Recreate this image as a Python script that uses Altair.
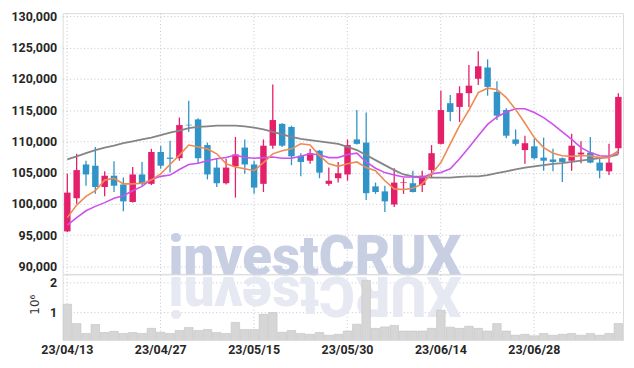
import altair as alt
import pandas as pd

dates = ["23/04/13","23/04/14","23/04/17","23/04/18","23/04/19","23/04/20","23/04/21","23/04/24","23/04/25","23/04/26",
         "23/04/27","23/04/28","23/05/02","23/05/03","23/05/04","23/05/08","23/05/09","23/05/10","23/05/11","23/05/12",
         "23/05/15","23/05/16","23/05/17","23/05/18","23/05/19","23/05/22","23/05/23","23/05/24","23/05/25","23/05/26",
         "23/05/30","23/05/31","23/06/01","23/06/02","23/06/05","23/06/07","23/06/08","23/06/09","23/06/12","23/06/13",
         "23/06/14","23/06/15","23/06/16","23/06/19","23/06/20","23/06/21","23/06/22","23/06/23","23/06/26","23/06/27",
         "23/06/28","23/06/29","23/06/30","23/07/03","23/07/04","23/07/05","23/07/06","23/07/07","23/07/10","23/07/11"]

opens = [95600,100900,106300,106100,102700,104500,103100,100300,104700,103200,
         108300,107400,107300,112650,113500,109400,105800,103300,106000,109000,
         106300,103200,109300,112800,112300,107700,106900,108500,103200,104100,
         104700,110300,109800,102800,102000,99900,103350,103300,103000,105400,
         109600,116100,115500,117700,120000,121800,117900,115000,110300,108600,
         109200,107400,107100,107300,106900,107900,108200,106600,105200,108900]
highs = [104800,108000,106900,109100,105200,106800,104200,105900,106700,108800,
         109300,110100,113800,116500,113700,109800,107200,107200,110700,110300,
         106900,110300,119100,112900,112500,108100,108800,108600,105800,106700,
         110300,115000,114600,103400,102900,105700,104100,105300,105300,109400,
         118100,117400,118800,122200,124400,123100,119600,115300,111900,110900,
         110400,110600,108800,107400,111200,110000,110700,107400,109600,117700]
lows = [95500,100000,102900,101600,101200,101900,98800,100200,102900,103000,
        105600,105000,106900,111500,106400,103900,102700,103100,101000,104800,
        101600,101900,108800,109100,106200,104400,106400,104100,102900,103400,
        103700,109500,100600,101600,98700,99500,101600,101800,101900,104200,
        109500,113200,113100,115500,119000,117300,113400,110500,109300,106400,
        107100,105300,105200,103500,105300,106500,106500,104100,104600,108000]
closes = [101800,105400,104700,102700,104500,102900,100400,104700,103200,108300,
          106100,107200,112600,112550,107300,104700,103300,105800,107900,106300,
          102600,109300,113400,109300,107600,106700,108100,105000,103700,104900,
          109400,109600,101700,101900,100400,103400,103450,101900,104500,108100,
          115000,114700,117700,118900,122000,118700,114100,110900,109600,109700,
          107300,106900,106700,106700,109300,108200,106600,105300,106600,117100]
volumes = [1.28,0.63,0.30,0.60,0.33,0.37,0.30,0.33,0.30,0.47,
           0.34,0.30,0.40,0.50,0.40,0.43,0.33,0.30,0.67,0.43,
           0.43,0.94,1.00,0.34,0.40,0.30,0.27,0.33,0.24,0.27,
           0.38,0.61,2.08,0.47,0.52,0.57,0.38,0.38,0.38,0.47,
           1.08,0.51,0.47,0.54,0.47,0.38,0.63,0.38,0.24,0.27,
           0.22,0.30,0.24,0.27,0.30,0.24,0.30,0.24,0.30,0.63]
ma_short = [97800,99800,101200,102100,103800,104100,103200,103200,103300,103800,
            104800,106300,107800,109400,109100,108800,108000,106400,105900,105600,
            105300,106600,108000,108500,108800,109600,109400,107700,106400,106000,
            106400,106700,105800,105300,103700,102400,102300,102500,103200,104800,
            106600,109600,112500,115000,117800,118500,118300,117000,115100,112900,
            110600,109000,108100,107700,107600,107700,107700,107400,107400,108500]
ma_mid = [96600,97800,98900,99600,100200,100900,101300,102100,102800,103900,
          104400,104600,105500,106300,106500,106900,107200,107400,107800,107400,
          107300,107400,107500,107300,107300,107600,108000,107800,107400,107400,
          107900,108100,106700,105700,105000,104600,104300,104300,104200,104800,
          105000,105600,107200,109000,110900,112700,113900,114700,115200,115200,
          114600,113800,112700,111500,110300,109000,108200,107700,107600,108300]
ma_long = [107100,107600,108100,108600,109000,109300,109700,110000,110300,110600,
           111000,111400,111700,112100,112300,112400,112500,112500,112500,112400,
           112200,111900,111500,111100,110700,110400,110200,110000,109800,109600,
           109100,108600,107800,107000,106200,105400,104700,104400,104300,104200,
           104200,104200,104300,104400,104400,104600,104900,105200,105500,105800,
           106000,106200,106400,106500,106700,106900,107100,107300,107500,107900]
label_dates = ["23/04/13","23/04/27","23/05/15","23/05/30","23/06/14","23/06/28"]
price_ticks = [90000,95000,100000,105000,110000,115000,120000,125000,130000]
watermark = ["investCRUX"]
watermark_mirror = ["XURCtsevni"]

df = pd.DataFrame({"date": dates, "open": opens, "high": highs, "low": lows, "close": closes,
                   "vol": volumes, "ma_s": ma_short, "ma_m": ma_mid, "ma_l": ma_long})
wm = pd.DataFrame({"t": watermark})
wm2 = pd.DataFrame({"t": watermark_mirror})

FONT = "Roboto"
LSIZE = 12.5
RED = "#e5206b"
BLUE = "#3194c8"
GRID = "#c3c5d6"

xscale = alt.Scale(paddingInner=0, paddingOuter=0)

def xenc(show_labels):
    return alt.X("date:O", sort=None, scale=xscale, title=None,
                 axis=alt.Axis(values=label_dates, labels=show_labels, ticks=False, domain=False,
                               grid=True, gridDash=[1, 2.5], gridColor=GRID, bandPosition=0.5,
                               labelAngle=0, labelPadding=4, labelFont=FONT, labelFontSize=LSIZE,
                               labelFontWeight="bold", labelColor="#262626", labelOverlap=False))

yprice = alt.Scale(domain=[88800, 130500], nice=False, zero=False)
price_axis = alt.Axis(values=price_ticks, format=",d", ticks=False, domain=False,
                      grid=True, gridDash=[1, 2.5], gridColor=GRID, labelPadding=6,
                      labelFont=FONT, labelFontSize=LSIZE, labelFontWeight="bold",
                      labelColor="#262626", labelOverlap=False, title=None)

def yenc(field):
    return alt.Y(field, type="quantitative", scale=yprice, axis=price_axis, title=None)

candle_color = alt.condition("datum.close >= datum.open", alt.value(RED), alt.value(BLUE))

base = alt.Chart(df)

mark_wm = alt.Chart(wm).mark_text(font="Roboto", fontSize=55, fontWeight=900, color="#c8cfe3",
                                  align="center", baseline="alphabetic").encode(
    text="t:N", x=alt.value(254), y=alt.value(264))

wicks = base.mark_rule(strokeWidth=1.3).encode(x=xenc(False), y=yenc("low"), y2="high:Q", color=candle_color)
bodies = base.mark_bar(size=6.5).encode(x=xenc(False), y=yenc("open"), y2="close:Q", color=candle_color)
line_l = base.mark_line(strokeWidth=1.8, color="#858585").encode(x=xenc(False), y=yenc("ma_l"))
line_m = base.mark_line(strokeWidth=1.6, color="#cc52ec").encode(x=xenc(False), y=yenc("ma_m"))
line_s = base.mark_line(strokeWidth=1.6, color="#ef8a52").encode(x=xenc(False), y=yenc("ma_s"))

top = alt.layer(mark_wm, wicks, bodies, line_l, line_m, line_s).properties(width=564, height=262.5)

reflect = alt.Chart(wm2).mark_text(font="Roboto", fontSize=55, fontWeight=900, color="#e6e9f1",
                                   align="center", baseline="alphabetic", angle=180).encode(
    text="t:N", x=alt.value(254), y=alt.value(3))
vol = base.mark_bar(size=8.6, color="#d6d6d6", stroke="#c2c2c2", strokeWidth=0.6, clip=True).encode(
    x=xenc(True),
    y=alt.Y("vol:Q", scale=alt.Scale(domain=[0.08, 2.28], nice=False, zero=False),
            axis=alt.Axis(values=[1, 2], format="d", ticks=False, domain=False, grid=True,
                          gridDash=[1, 2.5], gridColor=GRID, labelPadding=6, labelFont=FONT,
                          labelFontSize=LSIZE, labelFontWeight="bold", labelColor="#262626",
                          labelOverlap=False,
                          title="10⁶", titleFont="DejaVu Sans", titleFontSize=12,
                          titleFontWeight="normal", titleColor="#333333", titleAngle=-90,
                          titleX=-28, titleY=30, titleAlign="center", titleBaseline="middle")),
    y2=alt.datum(0))
bottom = alt.layer(reflect, vol).properties(width=564, height=66)

chart = alt.vconcat(top, bottom, spacing=0, bounds="flush").properties(
    padding={"left": 2, "top": 0, "right": 2, "bottom": 2}
).configure_view(stroke="#cfd0da", strokeWidth=1).configure(background="white")

chart.save("out.html", embed_options={"renderer": "svg", "actions": False})
